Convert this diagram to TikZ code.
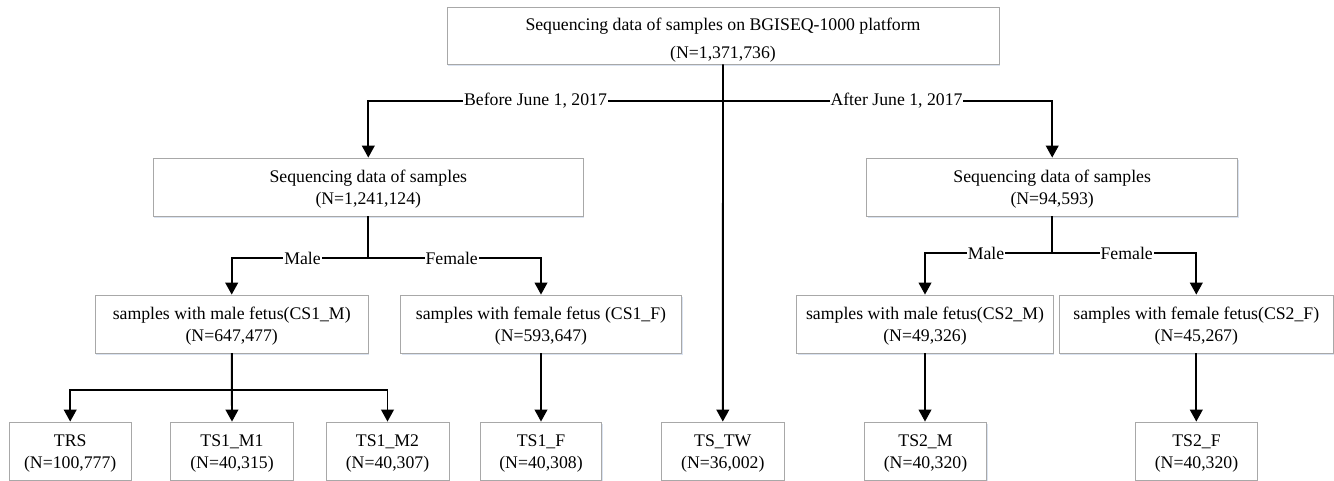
\documentclass[tikz,border=0pt]{standalone}
\usepackage{fontspec}
\setmainfont{Liberation Serif}
\usetikzlibrary{arrows.meta,shadows}

\definecolor{boxline}{RGB}{168,168,168}
\definecolor{boxshade}{RGB}{150,175,215}

% two-line box text with fixed top/bottom struts
\newcommand\twoline[2]{\rule{0pt}{12.7pt}#1\\#2\rule[-3pt]{0pt}{0pt}}

\tikzset{
  every node/.style={font=\fontsize{13.3}{16.1}\selectfont},
  box/.style 2 args={draw=boxline, line width=0.6pt, fill=white, inner sep=0pt,
    align=center, minimum width=#1*0.75pt, minimum height=#2*0.75pt,
    drop shadow={shadow xshift=0.8pt, shadow yshift=-1.2pt, fill=boxshade, opacity=0.35}},
  link/.style={line width=1.4pt, draw=black},
  arr/.style={link, -{Triangle[width=9.5pt,length=9pt]}},
  lbl/.style={fill=white, inner sep=0.6pt, outer sep=0pt},
}

\begin{document}
\begin{tikzpicture}[x=0.75pt, y=-0.75pt]
\useasboundingbox (0,0) rectangle (1334,481);

% root
\node[box={552}{57}, font=\fontsize{13.3}{21}\selectfont] (top) at (723,35.5)
  {\rule{0pt}{16.5pt}Sequencing data of samples on BGISEQ-1000 platform\\(N=1,371,736)\rule[-3pt]{0pt}{0pt}};

% split by date
\node[box={430}{58}] (before) at (368.3,187)
  {\twoline{Sequencing data of samples}{(N=1,241,124)}};
\node[box={371}{58}] (after) at (1052.2,187)
  {\twoline{Sequencing data of samples}{(N=94,593)}};

% split by fetal sex
\node[box={273}{58}] (cs1m) at (231.7,324) {\twoline{samples with male fetus(CS1\_M)}{(N=647,477)}};
\node[box={281}{58}] (cs1f) at (541,324) {\twoline{samples with female fetus (CS1\_F)}{(N=593,647)}};
\node[box={256.6}{58}] (cs2m) at (925,324) {\twoline{samples with male fetus(CS2\_M)}{(N=49,326)}};
\node[box={274}{58}] (cs2f) at (1196.3,324) {\twoline{samples with female fetus(CS2\_F)}{(N=45,267)}};

% final sets
\node[box={121.7}{58}] (trs)  at (70.2,451)   {\twoline{TRS}{(N=100,777)}};
\node[box={122.6}{58}] (m1)   at (232,451)    {\twoline{TS1\_M1}{(N=40,315)}};
\node[box={123}{58}]   (m2)   at (387.5,451)  {\twoline{TS1\_M2}{(N=40,307)}};
\node[box={121.7}{58}] (f1)   at (541,451)    {\twoline{TS1\_F}{(N=40,308)}};
\node[box={122.3}{58}] (tw)   at (722.8,451)  {\twoline{TS\_TW}{(N=36,002)}};
\node[box={122.4}{58}] (m2b)  at (925.5,451)  {\twoline{TS2\_M}{(N=40,320)}};
\node[box={121.6}{58}] (f2)   at (1196.5,451) {\twoline{TS2\_F}{(N=40,320)}};

% junction points
\coordinate (j0) at (723,101);
\coordinate (j1) at (368.3,258.3);
\coordinate (j2) at (1052.2,253.3);
\coordinate (j3) at (231.7,390);

% root -> date groups and TS_TW
\draw[arr] (top.south) -- (tw.north);
\draw[arr] (j0) -| (before.north);
\draw[arr] (j0) -| (after.north);

% date groups -> sex groups
\draw[link] (before.south) -- (j1);
\draw[arr] (j1) -| (cs1m.north);
\draw[arr] (j1) -| (cs1f.north);
\draw[link] (after.south) -- (j2);
\draw[arr] (j2) -| (cs2m.north);
\draw[arr] (j2) -| (cs2f.north);

% sex groups -> final sets
\draw[link] (cs1m.south) -- (j3);
\draw[arr] (j3) -| (trs.north);
\draw[arr] (cs1m.south) -- (m1.north);
\draw[arr] (j3) -| (m2.north);
\draw[arr] (cs1f.south) -- (cs1f.south |- f1.north);
\draw[arr] (cs2m.south) -- (cs2m.south |- m2b.north);
\draw[arr] (cs2f.south) -- (cs2f.south |- f2.north);

% branch labels
\node[lbl] (lbefore) at (535.5,101) {Before June 1, 2017};
\node[lbl] (lafter)  at (896.5,101) {After June 1, 2017};
\node[lbl] (lm1) at (302.5,258.3) {Male};
\node[lbl] (lf1) at (451.7,258.3) {Female};
\node[lbl] (lm2) at (986,253.3)   {Male};
\node[lbl] (lf2) at (1126.7,253.3) {Female};
\end{tikzpicture}
\end{document}
